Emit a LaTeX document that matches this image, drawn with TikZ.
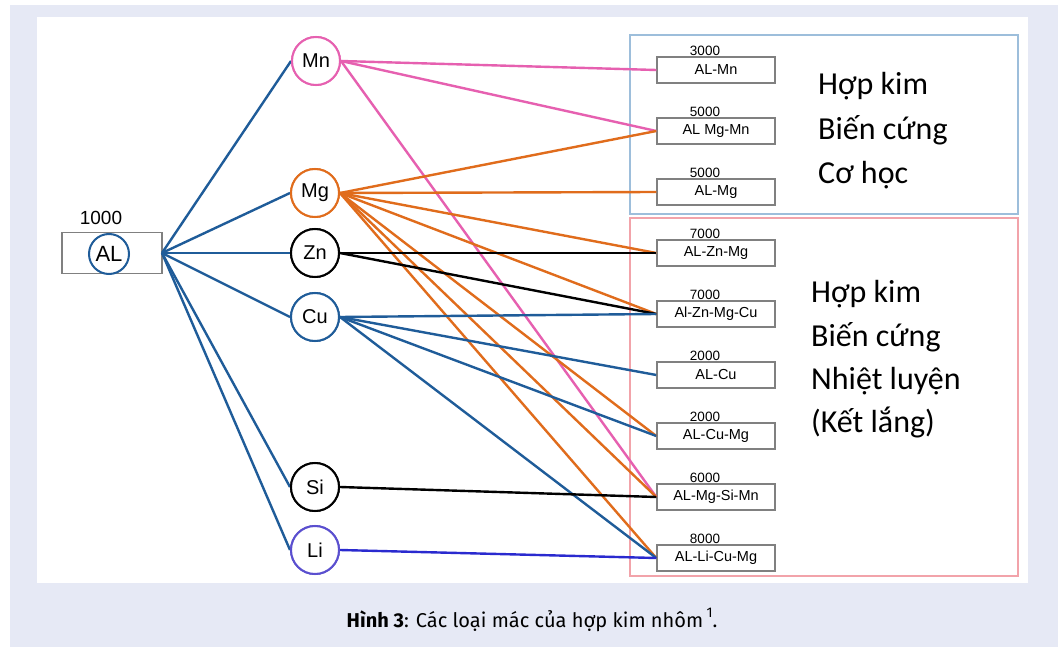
\documentclass[tikz,border=0pt]{standalone}
\usepackage{fontspec}
\setmainfont{Liberation Sans}
\newfontfamily\bigf{Carlito}
\newfontfamily\capf{Fira Sans}
\definecolor{bgl}{HTML}{E6E9F5}
\definecolor{alblue}{HTML}{1F5C99}
\definecolor{mnpink}{HTML}{E660B0}
\definecolor{mgorange}{HTML}{E06C1C}
\definecolor{licirc}{HTML}{5A4FCF}
\definecolor{liline}{HTML}{2A2ACF}
\definecolor{fblue}{HTML}{9DBEDB}
\definecolor{fred}{HTML}{F2A3AA}
\definecolor{boxgray}{HTML}{808080}
\tikzset{
  elem/.style={circle, draw=#1, line width=2pt, fill=white, minimum size=48pt, inner sep=0pt, font=\fontsize{20}{22}\selectfont},
  alloy/.style={rectangle, draw=boxgray, line width=1.4pt, fill=white, minimum width=118pt, minimum height=26pt, inner sep=0pt, font=\fontsize{14.5}{16}\selectfont},
  series/.style={font=\fontsize{13.5}{15}\selectfont, inner sep=0pt},
  conn/.style={line width=2.4pt, draw=#1},
  bigtxt/.style={font=\bigf\fontsize{32}{38}\selectfont, anchor=base west, inner sep=0pt}
}
\begin{document}
\begin{tikzpicture}[x=1pt,y=-1pt]
\useasboundingbox (0,0) rectangle (1058,647);
\fill[white] (0,0) rectangle (1058,647);
\fill[bgl] (10,5) rectangle (1058,647);
\fill[white] (37,17) rectangle (1028,583);
% frames
\draw[fblue, line width=1.5pt] (630,35) rectangle (1018,214);
\draw[fred, line width=1.5pt] (630,218) rectangle (1018,576);
% AL source
\node[rectangle, draw=boxgray, line width=1.4pt, fill=white, minimum width=100pt, minimum height=41pt, inner sep=0pt] (al) at (112,253) {};
\node[circle, draw=alblue, line width=2pt, minimum size=40pt, inner sep=0pt, font=\fontsize{22}{24}\selectfont] (alc) at (109,254) {AL};
\node[font=\fontsize{19}{21}\selectfont, inner sep=0pt] (n1000) at (101,218) {1000};
\coordinate (hub) at (162,253);
% element nodes
\node[elem=mnpink] (mn) at (316,61) {Mn};
\node[elem=mgorange] (mg) at (315,193) {Mg};
\node[elem=black] (zn) at (315,253) {Zn};
\node[elem=alblue] (cu) at (315,317) {Cu};
\node[elem=black] (si) at (315,487) {Si};
\node[elem=licirc] (li) at (315,550) {Li};
% alloy boxes
\node[alloy] (b1) at (716,70) {AL-Mn};
\node[alloy] (b2) at (716,131) {AL Mg-Mn};
\node[alloy] (b3) at (716,192) {AL-Mg};
\node[alloy] (b4) at (716,253) {AL-Zn-Mg};
\node[alloy] (b5) at (716,314) {Al-Zn-Mg-Cu};
\node[alloy] (b6) at (716,375) {AL-Cu};
\node[alloy] (b7) at (716,436) {AL-Cu-Mg};
\node[alloy] (b8) at (716,497) {AL-Mg-Si-Mn};
\node[alloy] (b9) at (716,558) {AL-Li-Cu-Mg};
\node[series] (s1) at (705,51) {3000};
\node[series] (s2) at (705,112) {5000};
\node[series] (s3) at (705,173) {5000};
\node[series] (s4) at (705,234) {7000};
\node[series] (s5) at (705,295) {7000};
\node[series] (s6) at (705,356) {2000};
\node[series] (s7) at (705,417) {2000};
\node[series] (s8) at (705,478) {6000};
\node[series] (s9) at (705,539) {8000};
% AL to elements
\draw[conn=alblue] (hub) -- (mn.west);
\draw[conn=alblue] (hub) -- (mg.west);
\draw[conn=alblue] (hub) -- (zn.west);
\draw[conn=alblue] (hub) -- (cu.west);
\draw[conn=alblue] (hub) -- (si.west);
\draw[conn=alblue] (hub) -- (li.west);
% Mn
\draw[conn=mnpink] (mn.east) -- (b1.west);
\draw[conn=mnpink] (mn.east) -- (b2.west);
\draw[conn=mnpink] (mn.east) -- (b8.west);
% Mg
\draw[conn=mgorange] (mg.east) -- (b2.west);
\draw[conn=mgorange] (mg.east) -- (b3.west);
\draw[conn=mgorange] (mg.east) -- (b4.west);
\draw[conn=mgorange] (mg.east) -- (b5.west);
\draw[conn=mgorange] (mg.east) -- (b7.west);
\draw[conn=mgorange] (mg.east) -- (b8.west);
\draw[conn=mgorange] (mg.east) -- (b9.west);
% Zn
\draw[conn=black] (zn.east) -- (b4.west);
\draw[conn=black] (zn.east) -- (b5.west);
% Cu
\draw[conn=alblue] (cu.east) -- (b5.west);
\draw[conn=alblue] (cu.east) -- (b6.west);
\draw[conn=alblue] (cu.east) -- (b7.west);
\draw[conn=alblue] (cu.east) -- (b9.west);
% Si, Li
\draw[conn=black] (si.east) -- (b8.west);
\draw[conn=liline] (li.east) -- (b9.west);
% redraw element circles on top of connector ends
\node[elem=mnpink] at (mn) {Mn};
\node[elem=mgorange] at (mg) {Mg};
\node[elem=black] at (zn) {Zn};
\node[elem=alblue] at (cu) {Cu};
\node[elem=black] at (si) {Si};
\node[elem=licirc] at (li) {Li};
% big texts
\node[bigtxt] (t1) at (818,95) {Hợp kim};
\node[bigtxt] (t2) at (818,140) {Biến cứng};
\node[bigtxt] (t3) at (818,184) {Cơ học};
\node[bigtxt] (t4) at (811,302) {Hợp kim};
\node[bigtxt] (t5) at (811,346) {Biến cứng};
\node[bigtxt] (t6) at (811,389) {Nhiệt luyện};
\node[bigtxt] (t7) at (811,432) {(Kết lắng)};
% caption
\node[font=\capf\fontsize{20}{24}\selectfont, anchor=base, inner sep=0pt] (cap) at (532,627) {\textbf{Hình 3}: Các loại mác của hợp kim nhôm\,\raisebox{0.5em}{\fontsize{14}{14}\selectfont 1}.};
\end{tikzpicture}
\end{document}
